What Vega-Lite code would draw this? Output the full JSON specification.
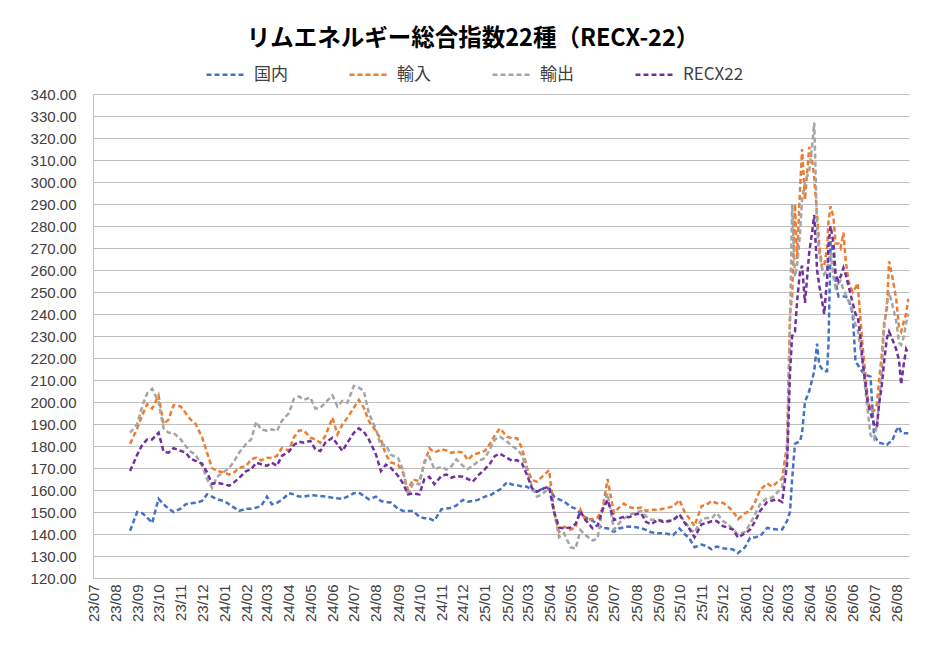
{
  "$schema": "https://vega.github.io/schema/vega-lite/v6.json",
  "title": {
    "text": "リムエネルギー総合指数22種（RECX-22）",
    "font": "Noto Sans CJK JP",
    "fontSize": 23.5,
    "fontWeight": "bold",
    "color": "#000000",
    "anchor": "middle",
    "dx": -28,
    "offset": 3
  },
  "background": "#ffffff",
  "width": 816,
  "height": 484,
  "autosize": "none",
  "padding": {"left": 93, "top": 94, "right": 42, "bottom": 79},
  "data": {
    "values": [
      {"date": "2023-08-22", "国内": 141.5, "輸入": 181, "輸出": 186, "RECX22": 168.6},
      {"date": "2023-09-01", "国内": 150, "輸入": 188, "輸出": 190, "RECX22": 176},
      {"date": "2023-09-08", "国内": 149.5, "輸入": 194, "輸出": 198, "RECX22": 180.5},
      {"date": "2023-09-15", "国内": 147.5, "輸入": 199, "輸出": 204, "RECX22": 183},
      {"date": "2023-09-22", "国内": 145, "輸入": 197, "輸出": 206, "RECX22": 183},
      {"date": "2023-10-01", "国内": 156, "輸入": 203, "輸出": 200, "RECX22": 186},
      {"date": "2023-10-08", "国内": 153.5, "輸入": 190, "輸出": 188, "RECX22": 177.5},
      {"date": "2023-10-15", "国内": 151.5, "輸入": 192, "輸出": 186, "RECX22": 177},
      {"date": "2023-10-22", "国内": 150, "輸入": 198.5, "輸出": 186, "RECX22": 179},
      {"date": "2023-11-01", "国内": 151.5, "輸入": 198, "輸出": 183, "RECX22": 177.8},
      {"date": "2023-11-08", "国内": 153.5, "輸入": 195, "輸出": 180, "RECX22": 177},
      {"date": "2023-11-15", "国内": 154, "輸入": 192, "輸出": 177.5, "RECX22": 174.2},
      {"date": "2023-11-22", "国内": 154.2, "輸入": 190, "輸出": 176, "RECX22": 173.2},
      {"date": "2023-12-01", "国内": 155, "輸入": 184, "輸出": 171, "RECX22": 172},
      {"date": "2023-12-08", "国内": 158, "輸入": 177, "輸出": 165, "RECX22": 168},
      {"date": "2023-12-15", "国内": 157, "輸入": 170, "輸出": 161, "RECX22": 162.8},
      {"date": "2023-12-22", "国内": 155.8, "輸入": 168.6, "輸出": 166, "RECX22": 163.3},
      {"date": "2024-01-01", "国内": 155, "輸入": 168, "輸出": 168.3, "RECX22": 162.6},
      {"date": "2024-01-08", "国内": 153.5, "輸入": 167, "輸出": 170, "RECX22": 162},
      {"date": "2024-01-15", "国内": 152, "輸入": 168, "輸出": 173, "RECX22": 163.5},
      {"date": "2024-01-22", "国内": 150.5, "輸入": 170, "輸出": 177, "RECX22": 165.5},
      {"date": "2024-02-01", "国内": 151.5, "輸入": 171, "輸出": 181, "RECX22": 168.6},
      {"date": "2024-02-08", "国内": 151.5, "輸入": 174, "輸出": 183, "RECX22": 169.4},
      {"date": "2024-02-15", "国内": 152, "輸入": 174.7, "輸出": 191, "RECX22": 172.4},
      {"date": "2024-02-22", "国内": 152.7, "輸入": 173.5, "輸出": 187.5, "RECX22": 171.7},
      {"date": "2024-03-01", "国内": 157, "輸入": 174.7, "輸出": 187, "RECX22": 171},
      {"date": "2024-03-08", "国内": 153.5, "輸入": 174.5, "輸出": 187.6, "RECX22": 172.4},
      {"date": "2024-03-15", "国内": 154.2, "輸入": 175.5, "輸出": 186.8, "RECX22": 171},
      {"date": "2024-03-22", "国内": 155.5, "輸入": 179, "輸出": 191.4, "RECX22": 175.5},
      {"date": "2024-04-01", "国内": 158.5, "輸入": 178, "輸出": 195, "RECX22": 177.5},
      {"date": "2024-04-08", "国内": 158, "輸入": 184, "輸出": 201.5, "RECX22": 180.5},
      {"date": "2024-04-15", "国内": 157, "輸入": 187, "輸出": 202.5, "RECX22": 182},
      {"date": "2024-04-22", "国内": 157, "輸入": 187, "輸出": 201, "RECX22": 181.5},
      {"date": "2024-05-01", "国内": 157.6, "輸入": 183.8, "輸出": 202, "RECX22": 182.3},
      {"date": "2024-05-08", "国内": 157.5, "輸入": 183, "輸出": 197, "RECX22": 178.5},
      {"date": "2024-05-15", "国内": 157.3, "輸入": 181.5, "輸出": 197.4, "RECX22": 177.7},
      {"date": "2024-05-22", "国内": 157, "輸入": 184.5, "輸出": 199.7, "RECX22": 181.5},
      {"date": "2024-06-01", "国内": 156.5, "輸入": 192.9, "輸出": 203, "RECX22": 183.8},
      {"date": "2024-06-08", "国内": 156.2, "輸入": 185.3, "輸出": 198, "RECX22": 180.8},
      {"date": "2024-06-15", "国内": 156, "輸入": 189.8, "輸出": 200.5, "RECX22": 177.7},
      {"date": "2024-06-22", "国内": 157, "輸入": 192.9, "輸出": 199.7, "RECX22": 181.5},
      {"date": "2024-07-01", "国内": 158.5, "輸入": 197.4, "輸出": 207.3, "RECX22": 186},
      {"date": "2024-07-08", "国内": 158.8, "輸入": 201, "輸出": 206.5, "RECX22": 188},
      {"date": "2024-07-15", "国内": 157.3, "輸入": 197.4, "輸出": 205, "RECX22": 186.5},
      {"date": "2024-07-22", "国内": 155.8, "輸入": 191.4, "輸出": 195, "RECX22": 183},
      {"date": "2024-08-01", "国内": 157, "輸入": 186.8, "輸出": 187.6, "RECX22": 176.2},
      {"date": "2024-08-08", "国内": 155, "輸入": 183, "輸出": 180, "RECX22": 168.6},
      {"date": "2024-08-15", "国内": 154.5, "輸入": 176, "輸出": 180.5, "RECX22": 171.5},
      {"date": "2024-08-22", "国内": 154.3, "輸入": 172.5, "輸出": 176, "RECX22": 170},
      {"date": "2024-09-01", "国内": 151.5, "輸入": 171.5, "輸出": 174.6, "RECX22": 166.5},
      {"date": "2024-09-08", "国内": 150.5, "輸入": 168, "輸出": 169, "RECX22": 163},
      {"date": "2024-09-15", "国内": 150.5, "輸入": 160, "輸出": 157.5, "RECX22": 158},
      {"date": "2024-09-22", "国内": 150.5, "輸入": 164.8, "輸出": 163, "RECX22": 158.5},
      {"date": "2024-10-01", "国内": 147.8, "輸入": 164, "輸出": 162.6, "RECX22": 158},
      {"date": "2024-10-08", "国内": 147.2, "輸入": 172, "輸出": 173, "RECX22": 165},
      {"date": "2024-10-15", "国内": 147, "輸入": 179, "輸出": 175, "RECX22": 166},
      {"date": "2024-10-22", "国内": 146, "輸入": 177, "輸出": 169.5, "RECX22": 162.6},
      {"date": "2024-11-01", "国内": 151.3, "輸入": 178.5, "輸出": 170.5, "RECX22": 166.5},
      {"date": "2024-11-08", "国内": 151.6, "輸入": 178, "輸出": 169.3, "RECX22": 167},
      {"date": "2024-11-15", "国内": 151.8, "輸入": 176.9, "輸出": 170.8, "RECX22": 165.6},
      {"date": "2024-11-22", "国内": 153, "輸入": 177.5, "輸出": 173.9, "RECX22": 166.3},
      {"date": "2024-12-01", "国内": 155.5, "輸入": 177, "輸出": 171, "RECX22": 166},
      {"date": "2024-12-08", "国内": 154.7, "輸入": 173.6, "輸出": 169.5, "RECX22": 165},
      {"date": "2024-12-15", "国内": 155, "輸入": 176, "輸出": 171, "RECX22": 163.8},
      {"date": "2024-12-22", "国内": 155.5, "輸入": 176.7, "輸出": 172.9, "RECX22": 166.5},
      {"date": "2025-01-01", "国内": 157, "輸入": 177.8, "輸出": 174.5, "RECX22": 169.5},
      {"date": "2025-01-08", "国内": 157.5, "輸入": 181, "輸出": 178.5, "RECX22": 172},
      {"date": "2025-01-15", "国内": 159, "輸入": 185, "輸出": 183, "RECX22": 175.5},
      {"date": "2025-01-22", "国内": 160.2, "輸入": 188, "輸出": 184.2, "RECX22": 176.5},
      {"date": "2025-02-01", "国内": 163.5, "輸入": 184.2, "輸出": 182, "RECX22": 174.6},
      {"date": "2025-02-08", "国内": 162.5, "輸入": 183.5, "輸出": 180, "RECX22": 173.2},
      {"date": "2025-02-15", "国内": 162.2, "輸入": 183.5, "輸出": 178.5, "RECX22": 173.6},
      {"date": "2025-02-22", "国内": 161.6, "輸入": 179, "輸出": 175.8, "RECX22": 172},
      {"date": "2025-03-01", "国内": 161.5, "輸入": 170, "輸出": 169, "RECX22": 166.8},
      {"date": "2025-03-08", "国内": 160, "輸入": 164.5, "輸出": 161.5, "RECX22": 160.8},
      {"date": "2025-03-15", "国内": 159.3, "輸入": 163.8, "輸出": 157, "RECX22": 159.2},
      {"date": "2025-03-22", "国内": 160.5, "輸入": 166, "輸出": 158, "RECX22": 160.5},
      {"date": "2025-04-01", "国内": 160.8, "輸入": 169, "輸出": 161, "RECX22": 161.5},
      {"date": "2025-04-08", "国内": 157, "輸入": 150, "輸出": 150, "RECX22": 150},
      {"date": "2025-04-15", "国内": 155.7, "輸入": 141, "輸出": 138.5, "RECX22": 143},
      {"date": "2025-04-22", "国内": 154.8, "輸入": 143.3, "輸出": 140.3, "RECX22": 142.5},
      {"date": "2025-05-01", "国内": 152.5, "輸入": 142, "輸出": 134, "RECX22": 143},
      {"date": "2025-05-08", "国内": 151.5, "輸入": 143, "輸出": 133.3, "RECX22": 144.5},
      {"date": "2025-05-15", "国内": 149.3, "輸入": 151, "輸出": 141.8, "RECX22": 150.2},
      {"date": "2025-05-22", "国内": 147.5, "輸入": 146.4, "輸出": 139.5, "RECX22": 146.4},
      {"date": "2025-06-01", "国内": 146, "輸入": 146.8, "輸出": 137, "RECX22": 142.6},
      {"date": "2025-06-08", "国内": 144.5, "輸入": 147.5, "輸出": 138, "RECX22": 144},
      {"date": "2025-06-15", "国内": 142.6, "輸入": 151.5, "輸出": 152, "RECX22": 151},
      {"date": "2025-06-22", "国内": 142.6, "輸入": 165, "輸出": 158.5, "RECX22": 155.5},
      {"date": "2025-07-01", "国内": 141, "輸入": 149.5, "輸出": 142, "RECX22": 146.4},
      {"date": "2025-07-08", "国内": 142.5, "輸入": 152, "輸出": 144.8, "RECX22": 147.1},
      {"date": "2025-07-15", "国内": 143, "輸入": 153.8, "輸出": 147, "RECX22": 147.9},
      {"date": "2025-07-22", "国内": 143.4, "輸入": 152.2, "輸出": 148.6, "RECX22": 147.6},
      {"date": "2025-08-01", "国内": 143.1, "輸入": 151.7, "輸出": 149.8, "RECX22": 149},
      {"date": "2025-08-08", "国内": 142.6, "輸入": 152, "輸出": 150.5, "RECX22": 149.5},
      {"date": "2025-08-15", "国内": 141.9, "輸入": 150.5, "輸出": 148, "RECX22": 145.5},
      {"date": "2025-08-22", "国内": 140.8, "輸入": 151, "輸出": 146.5, "RECX22": 144.4},
      {"date": "2025-09-01", "国内": 140.3, "輸入": 151, "輸出": 146.5, "RECX22": 146.5},
      {"date": "2025-09-08", "国内": 140.3, "輸入": 151.5, "輸出": 146, "RECX22": 145.5},
      {"date": "2025-09-15", "国内": 140, "輸入": 152, "輸出": 145.5, "RECX22": 145.9},
      {"date": "2025-09-22", "国内": 139.5, "輸入": 152.5, "輸出": 146.5, "RECX22": 146.2},
      {"date": "2025-10-01", "国内": 142.5, "輸入": 155.5, "輸出": 148.2, "RECX22": 149},
      {"date": "2025-10-08", "国内": 140, "輸入": 150, "輸出": 146, "RECX22": 145.2},
      {"date": "2025-10-15", "国内": 138, "輸入": 147, "輸出": 142.5, "RECX22": 142.3},
      {"date": "2025-10-22", "国内": 134, "輸入": 143.6, "輸出": 140.6, "RECX22": 138.5},
      {"date": "2025-11-01", "国内": 135.2, "輸入": 152.7, "輸出": 146.8, "RECX22": 144.4},
      {"date": "2025-11-08", "国内": 134.5, "輸入": 153.3, "輸出": 147.3, "RECX22": 145},
      {"date": "2025-11-15", "国内": 133, "輸入": 155, "輸出": 147.2, "RECX22": 145.8},
      {"date": "2025-11-22", "国内": 134.3, "輸入": 154, "輸出": 149.5, "RECX22": 145.9},
      {"date": "2025-12-01", "国内": 133.5, "輸入": 154.2, "輸出": 145.9, "RECX22": 143.6},
      {"date": "2025-12-08", "国内": 133.3, "輸入": 152.5, "輸出": 144.4, "RECX22": 142.9},
      {"date": "2025-12-15", "国内": 133, "輸入": 150.3, "輸出": 142.1, "RECX22": 142},
      {"date": "2025-12-22", "国内": 131.3, "輸入": 146.8, "輸出": 139.8, "RECX22": 138.4},
      {"date": "2026-01-01", "国内": 134, "輸入": 149.5, "輸出": 141, "RECX22": 140.3},
      {"date": "2026-01-08", "国内": 138.3, "輸入": 150.5, "輸出": 144.5, "RECX22": 142},
      {"date": "2026-01-15", "国内": 138.5, "輸入": 154.5, "輸出": 149, "RECX22": 145.8},
      {"date": "2026-01-22", "国内": 139, "輸入": 160, "輸出": 153.5, "RECX22": 150.5},
      {"date": "2026-02-01", "国内": 142.8, "輸入": 163, "輸出": 156.5, "RECX22": 154.6},
      {"date": "2026-02-08", "国内": 142.3, "輸入": 161.5, "輸出": 156.5, "RECX22": 155.2},
      {"date": "2026-02-15", "国内": 142.1, "輸入": 163.5, "輸出": 158.8, "RECX22": 155.8},
      {"date": "2026-02-22", "国内": 142.1, "輸入": 165.2, "輸出": 161.5, "RECX22": 154.5},
      {"date": "2026-03-01", "国内": 146, "輸入": 181, "輸出": 175, "RECX22": 172},
      {"date": "2026-03-05", "国内": 150, "輸入": 240, "輸出": 235, "RECX22": 213},
      {"date": "2026-03-08", "国内": 165, "輸入": 248, "輸出": 290, "RECX22": 230},
      {"date": "2026-03-12", "国内": 181, "輸入": 290, "輸出": 257, "RECX22": 232},
      {"date": "2026-03-15", "国内": 181.5, "輸入": 265, "輸出": 262, "RECX22": 246},
      {"date": "2026-03-19", "国内": 182, "輸入": 296, "輸出": 276, "RECX22": 259},
      {"date": "2026-03-22", "国内": 186, "輸入": 315, "輸出": 292, "RECX22": 262},
      {"date": "2026-03-26", "国内": 200, "輸入": 292, "輸出": 300, "RECX22": 245},
      {"date": "2026-04-01", "国内": 205, "輸入": 316, "輸出": 305, "RECX22": 268},
      {"date": "2026-04-05", "国内": 210, "輸入": 310, "輸出": 316, "RECX22": 277},
      {"date": "2026-04-08", "国内": 214, "輸入": 302, "輸出": 327, "RECX22": 285},
      {"date": "2026-04-12", "国内": 226.5, "輸入": 285, "輸出": 279, "RECX22": 260},
      {"date": "2026-04-15", "国内": 217, "輸入": 272, "輸出": 268, "RECX22": 253},
      {"date": "2026-04-19", "国内": 215, "輸入": 261, "輸出": 261, "RECX22": 246},
      {"date": "2026-04-22", "国内": 214, "輸入": 262, "輸出": 258, "RECX22": 240},
      {"date": "2026-04-26", "国内": 214, "輸入": 270, "輸出": 260, "RECX22": 256},
      {"date": "2026-04-28", "国内": 226, "輸入": 282, "輸出": 264, "RECX22": 271},
      {"date": "2026-05-01", "国内": 273, "輸入": 289, "輸出": 268, "RECX22": 280},
      {"date": "2026-05-05", "国内": 268, "輸入": 284, "輸出": 257, "RECX22": 272},
      {"date": "2026-05-08", "国内": 255, "輸入": 272, "輸出": 252, "RECX22": 258},
      {"date": "2026-05-12", "国内": 248, "輸入": 272, "輸出": 254, "RECX22": 255},
      {"date": "2026-05-15", "国内": 248, "輸入": 270, "輸出": 255, "RECX22": 257},
      {"date": "2026-05-19", "国内": 248, "輸入": 277, "輸出": 251, "RECX22": 261},
      {"date": "2026-05-22", "国内": 248, "輸入": 265, "輸出": 249, "RECX22": 258},
      {"date": "2026-05-26", "国内": 247, "輸入": 255, "輸出": 246, "RECX22": 253},
      {"date": "2026-06-01", "国内": 240, "輸入": 250, "輸出": 241, "RECX22": 245},
      {"date": "2026-06-05", "国内": 218, "輸入": 252, "輸出": 235, "RECX22": 240},
      {"date": "2026-06-08", "国内": 217, "輸入": 254, "輸出": 233, "RECX22": 239},
      {"date": "2026-06-12", "国内": 215, "輸入": 237, "輸出": 224, "RECX22": 229},
      {"date": "2026-06-15", "国内": 213.5, "輸入": 225, "輸出": 218, "RECX22": 218},
      {"date": "2026-06-19", "国内": 212.5, "輸入": 212, "輸出": 205, "RECX22": 208},
      {"date": "2026-06-22", "国内": 212, "輸入": 202, "輸出": 196, "RECX22": 200},
      {"date": "2026-06-26", "国内": 211.5, "輸入": 196, "輸出": 185, "RECX22": 195},
      {"date": "2026-07-01", "国内": 185, "輸入": 196, "輸出": 183, "RECX22": 190},
      {"date": "2026-07-05", "国内": 182.7, "輸入": 199, "輸出": 190, "RECX22": 188.5},
      {"date": "2026-07-08", "国内": 181.5, "輸入": 210, "輸出": 199, "RECX22": 199},
      {"date": "2026-07-12", "国内": 181.2, "輸入": 222, "輸出": 215, "RECX22": 208},
      {"date": "2026-07-15", "国内": 180.8, "輸入": 236, "輸出": 233, "RECX22": 218},
      {"date": "2026-07-19", "国内": 180.5, "輸入": 242, "輸出": 245, "RECX22": 229},
      {"date": "2026-07-22", "国内": 181.5, "輸入": 264, "輸出": 250, "RECX22": 232},
      {"date": "2026-07-26", "国内": 182, "輸入": 258, "輸出": 245, "RECX22": 229},
      {"date": "2026-08-01", "国内": 187, "輸入": 247, "輸出": 237, "RECX22": 224},
      {"date": "2026-08-05", "国内": 188.8, "輸入": 234, "輸出": 227, "RECX22": 219},
      {"date": "2026-08-08", "国内": 186, "輸入": 232, "輸出": 226, "RECX22": 208},
      {"date": "2026-08-12", "国内": 185.8, "輸入": 237, "輸出": 230, "RECX22": 218},
      {"date": "2026-08-15", "国内": 185.8, "輸入": 240, "輸出": 236, "RECX22": 224},
      {"date": "2026-08-18", "国内": 185.8, "輸入": 247, "輸出": 240, "RECX22": 222}
    ]
  },
  "transform": [
    {"fold": ["国内", "輸入", "輸出", "RECX22"], "as": ["series", "value"]}
  ],
  "mark": {"type": "line", "strokeWidth": 2.5, "strokeDash": [5, 3], "interpolate": "linear"},
  "encoding": {
    "x": {
      "field": "date",
      "type": "temporal",
      "scale": {"domain": ["2023-07-01", "2026-08-19"], "nice": false},
      "axis": {
        "title": null,
        "format": "%y/%m",
        "tickCount": {"interval": "month", "step": 1},
        "labelAngle": -90,
        "labelOverlap": false,
        "labelPadding": 6,
        "grid": false,
        "ticks": false,
        "domainColor": "#BFBFBF"
      }
    },
    "y": {
      "field": "value",
      "type": "quantitative",
      "scale": {"domain": [120, 340], "nice": false, "zero": false},
      "axis": {
        "title": null,
        "values": [120, 130, 140, 150, 160, 170, 180, 190, 200, 210, 220, 230, 240, 250, 260, 270, 280, 290, 300, 310, 320, 330, 340],
        "format": ".2f",
        "ticks": false,
        "labelPadding": 17,
        "gridColor": "#BFBFBF",
        "domainColor": "#BFBFBF"
      }
    },
    "color": {
      "field": "series",
      "type": "nominal",
      "scale": {
        "domain": ["国内", "輸入", "輸出", "RECX22"],
        "range": ["#4472C4", "#ED7D31", "#A5A5A5", "#7030A0"]
      },
      "legend": {
        "title": null,
        "orient": "none",
        "legendX": 112,
        "legendY": -41,
        "direction": "horizontal",
        "symbolType": "stroke",
        "symbolSize": 1600,
        "symbolStrokeWidth": 2.5,
        "symbolDash": [5, 3],
        "labelFont": "Noto Sans CJK JP",
        "labelFontSize": 17,
        "labelColor": "#404040",
        "labelOffset": 6,
        "columnPadding": 56
      }
    }
  },
  "config": {
    "view": {"stroke": null},
    "axis": {
      "labelFont": "Liberation Sans",
      "labelFontSize": 15,
      "labelColor": "#404040"
    }
  }
}
